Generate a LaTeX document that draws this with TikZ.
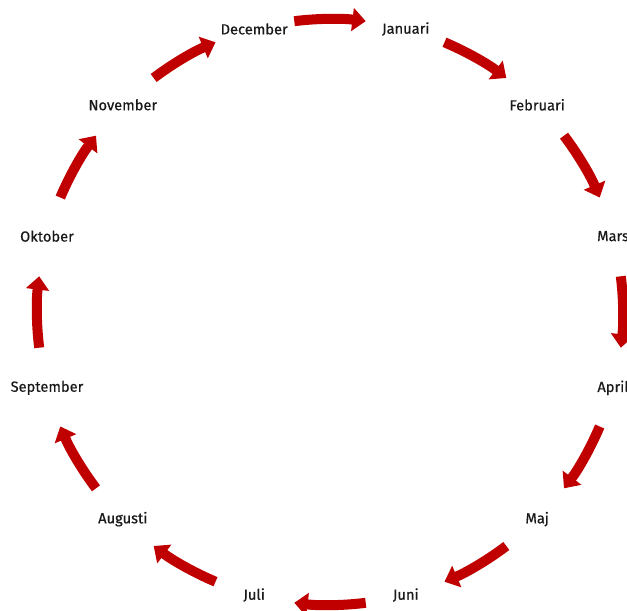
\documentclass[tikz,border=0pt]{standalone}
\usepackage{fontspec}
\setmainfont{Fira Sans}
\newfontfamily\monthfont{Fira Sans}[FakeBold=0.5]
\usetikzlibrary{arrows.meta}
\definecolor{cycred}{HTML}{C00000}

\begin{document}
\begin{tikzpicture}[
  x=0.75pt, y=0.75pt,
  month/.style={font=\monthfont\fontsize{11}{13}\selectfont, text=black!90},
  cycarrow/.style={-{Triangle[width=17pt,length=10pt]}, cycred, line width=7.5pt}
]
  \useasboundingbox (-330,-298) rectangle (297,312);

  % --- month labels on a circle, clockwise from December ---
  \foreach \name [count=\k from 0] in {December, Januari, Februari, Mars, April, Maj,
                                       Juni, Juli, Augusti, September, Oktober, November} {
    \node[month] (m\k) at ({105-30*\k}:293) {\name};
  }

  % --- arrows between neighbouring months ---
  \foreach \k in {0,...,11} {
    \pgfmathsetmacro{\midang}{90-30*\k}
    \coordinate (a\k) at ({\midang+7}:293);
    \draw[cycarrow] (a\k) arc[start angle=\midang+7, end angle=\midang-7, radius=219.75pt];
  }

\end{tikzpicture}
\end{document}
